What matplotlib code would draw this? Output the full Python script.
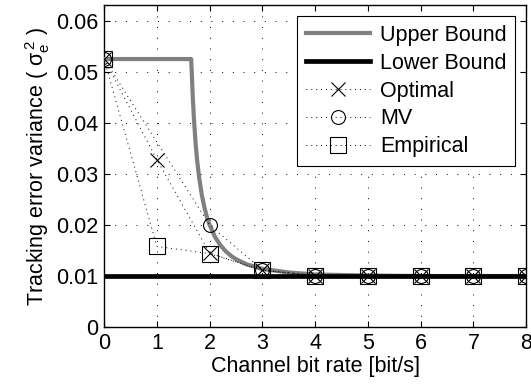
import matplotlib.pyplot as plt
import numpy as np

plt.rcParams['font.family'] = ['Liberation Sans', 'DejaVu Sans']
plt.rcParams['mathtext.fontset'] = 'custom'
plt.rcParams['mathtext.rm'] = 'Liberation Sans'
plt.rcParams['mathtext.it'] = 'Liberation Sans'

# upper bound curve
ub_rate = [0, 1.65, 1.66, 1.68, 1.70, 1.73, 1.76, 1.80, 1.85, 1.90, 1.95, 2.0,
           2.1, 2.2, 2.3, 2.4, 2.5, 2.7, 3.0, 3.5, 4.0, 4.5, 5.0, 6.0, 8.0]
ub_var = [0.0525, 0.0525, 0.0503, 0.0453, 0.0413, 0.0366, 0.0330, 0.0294, 0.0260,
          0.0235, 0.0215, 0.0200, 0.0177, 0.0161, 0.0149, 0.0140, 0.0133, 0.0123,
          0.0114, 0.0107, 0.0103, 0.0102, 0.0101, 0.0100, 0.0100]
lb_rate = [0, 8]
lb_var = [0.01, 0.01]

rate = [0, 1, 2, 3, 4, 5, 6, 7, 8]
optimal = [0.0525, 0.0328, 0.0145, 0.0111, 0.0101, 0.0101, 0.0101, 0.0101, 0.0101]
empirical = [0.0525, 0.0158, 0.0144, 0.0111, 0.0101, 0.0101, 0.0101, 0.0101, 0.0101]
mv_rate = [0, 2, 3, 4, 5, 6, 7, 8]
mv = [0.0525, 0.0200, 0.0112, 0.0101, 0.0101, 0.0101, 0.0101, 0.0101]

fig = plt.figure(figsize=(5.31, 3.88), dpi=100)
ax = fig.add_axes([0.196, 0.157, 0.795, 0.829])

dots = (0, (1, 4))
ax.plot(ub_rate, ub_var, color='#808080', lw=3.0, label='Upper Bound', zorder=3)
ax.plot(lb_rate, lb_var, color='black', lw=3.4, label='Lower Bound', zorder=3)
ax.plot(rate, optimal, color='black', ls=dots, lw=0.7, marker='x', ms=10,
        mew=0.8, label='Optimal', zorder=4)
ax.plot(mv_rate, mv, color='black', ls=dots, lw=0.7, marker='o', ms=10,
        mew=0.8, mfc='none', label='MV', zorder=4)
ax.plot(rate, empirical, color='black', ls=dots, lw=0.7, marker='s', ms=11,
        mew=0.8, mfc='none', label='Empirical', zorder=4)

ax.set_xlim(0, 8)
ax.set_ylim(0, 0.063)
ax.set_xticks(range(0, 9))
ax.set_yticks([0, 0.01, 0.02, 0.03, 0.04, 0.05, 0.06])
ax.set_yticklabels(['0', '0.01', '0.02', '0.03', '0.04', '0.05', '0.06'])
ax.grid(True, color='black', ls=(0, (1, 10)), lw=0.7)
ax.tick_params(direction='in', top=True, right=True, labelsize=15.5, length=4, pad=4)
for s in ax.spines.values():
    s.set_linewidth(1.0)

ax.set_xlabel('Channel bit rate [bit/s]', fontsize=15.5, labelpad=2)
ax.set_ylabel(r'Tracking error variance ( $\sigma_e^{\,2}$ )', fontsize=15.5, labelpad=3)

leg = ax.legend(loc='upper right', fontsize=15.5, frameon=True, fancybox=False,
                edgecolor='black', framealpha=1, handlelength=3.0,
                borderaxespad=0.5, labelspacing=0.32, handletextpad=0.47,
                borderpad=0.4)
leg.get_frame().set_linewidth(0.8)

fig.savefig('out.png', dpi=100)
